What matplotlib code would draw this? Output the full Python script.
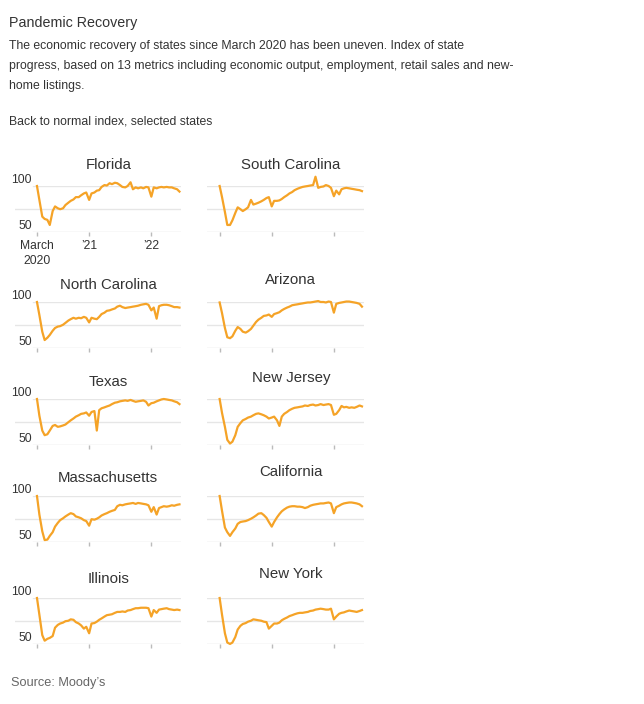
import pandas as pd
import matplotlib.pyplot as plt
import matplotlib.transforms as mtransforms

plt.rcParams['font.family'] = ['Liberation Sans', 'DejaVu Sans']

# semi-monthly readings, March 2020 to mid June 2022
dates = pd.date_range('2020-03-01', periods=56, freq='SMS')

florida = [100, 85, 67, 64.5, 63.5, 58, 73, 78,
           76, 75, 76, 79.5, 82, 84, 85.5, 88,
           88, 90, 92, 93, 85, 92, 93, 95,
           95.5, 99, 101, 100.5, 103, 102, 103.5, 103,
           101, 99, 98.5, 100, 104, 96.5, 98.5, 97.5,
           98.5, 97.5, 99, 98.5, 88.5, 98.5, 97.5, 98.5,
           99, 98.5, 99, 98.5, 98.5, 97.5, 96.5, 94]
south_carolina = [100, 88, 72, 58, 58, 63, 71, 77,
                  75, 73, 75, 77, 85, 80, 81, 82,
                  83.5, 85, 87, 88, 78, 84, 84, 84.5,
                  86, 88, 90, 92, 93.5, 95.5, 97, 98,
                  99, 99.5, 100, 100.5, 101, 110, 98, 99,
                  99.5, 101, 100, 98, 89, 95, 91, 96.5,
                  97.5, 98, 97.5, 97, 96.5, 96, 95.5, 94.5]
north_carolina = [100, 86, 68, 59, 61.5, 64.5, 69, 72,
                  73.5, 74, 75.5, 77.5, 80, 81.5, 83, 82,
                  83, 82.5, 84, 83, 78, 83, 82, 81.5,
                  84, 87, 88.5, 90.5, 91, 92, 93, 95,
                  96, 94.5, 93.5, 94, 94.5, 95, 95.5, 96,
                  97, 97.5, 98, 97, 91, 94, 82, 95.5,
                  96.5, 97, 97, 96.5, 95.5, 94.5, 94.5, 94]
arizona = [99.5, 88, 72, 62, 61, 63, 69, 73,
           71, 68, 67, 68.5, 71, 74.5, 78.5, 81,
           83, 85, 85.5, 86.5, 84, 87, 88, 89,
           91, 92.5, 94, 95, 96.5, 97, 97.5, 98,
           98.5, 99, 99.5, 99.5, 100, 100.5, 101, 100,
           100, 99.5, 100.5, 100, 88.5, 98, 99, 99.5,
           100, 100.5, 100.5, 100, 99.5, 99, 98, 95]
texas = [100, 82, 66, 61, 62, 66, 71, 72,
         70, 70.5, 71.5, 72.5, 75, 77, 79, 81,
         82.5, 84, 84.5, 85.5, 82, 86, 87, 66,
         88, 90, 91, 92, 93, 94.5, 96, 96.5,
         97.5, 98, 98.5, 98, 99, 98, 97, 97.5,
         98, 98.5, 97, 93, 95.5, 96, 97.5, 98.5,
         99.5, 100, 99.5, 99, 98.5, 97.5, 96.5, 94.5]
new_jersey = [100, 85, 70, 56, 52, 54, 61, 70,
              74, 77, 78.5, 80, 81, 82.5, 84, 84.5,
              83.5, 82.5, 81, 79, 80, 81, 77, 71,
              81, 84, 86, 88, 89.5, 90.5, 91, 91.5,
              92, 93, 92.5, 93.5, 94, 93, 93.5, 94.5,
              93.5, 94, 94.5, 93.5, 83, 84, 88, 92.5,
              91, 91.5, 90.5, 91, 90.5, 91.5, 93, 92]
massachusetts = [100, 80, 62, 52.5, 53, 57, 61, 67,
                 71, 74, 76, 78, 80, 81.5, 80.5, 78,
                 77, 76, 74, 73, 68, 75, 74.5, 75.5,
                 77, 79, 80.5, 81.5, 83, 84, 85, 89,
                 90.5, 90, 91, 91.5, 92, 92.5, 91.5, 92.5,
                 92, 91.5, 91, 90, 83, 88, 80, 87,
                 88, 89, 88.5, 89, 90, 89.5, 90.5, 91]
california = [100, 84, 66, 61, 57, 61, 65, 70,
              72, 72.5, 73, 74, 75.5, 77, 79, 81,
              81.5, 79.5, 76.5, 72, 67, 72, 77, 80.5,
              83.5, 85.5, 87.5, 88.5, 89, 89, 88.5, 88.5,
              88, 87, 88, 89.5, 90.5, 91, 91.5, 92,
              92, 92.5, 93, 92, 81.5, 88, 89.5, 91,
              92, 92.5, 93, 93, 92.5, 92, 91, 89]
illinois = [100, 82, 60, 54, 56, 57, 59, 68,
            71, 72.5, 73.5, 75, 75.5, 77, 76.5, 74,
            72.5, 70.5, 67, 69, 62, 72.5, 73, 74.5,
            76.5, 78, 80, 81.5, 82, 82.5, 84, 85,
            85, 85.5, 85, 86.5, 87, 88, 89, 89,
            89.5, 89.5, 89.5, 89, 80, 87, 84, 87.5,
            88, 88.5, 89, 88, 87.5, 87, 87.5, 87]
new_york = [100, 82, 62, 52, 50.5, 52, 58, 66,
            70, 72, 73, 74.5, 75.5, 77, 76.5, 76,
            75.5, 74.5, 74, 67, 70, 72.5, 72.5, 73.5,
            76, 77.5, 79, 80.5, 81.5, 82.5, 83.5, 84,
            84, 84.5, 85, 86, 86.5, 87.5, 88, 88.5,
            88, 87.5, 87.5, 88.5, 77, 80, 83, 84,
            84.5, 85.5, 86.5, 86, 85.5, 85, 86, 87]

states = ['Florida', 'South Carolina', 'North Carolina', 'Arizona', 'Texas',
          'New Jersey', 'Massachusetts', 'California', 'Illinois', 'New York']
series = [florida, south_carolina, north_carolina, arizona, texas,
          new_jersey, massachusetts, california, illinois, new_york]
tick_dates = pd.to_datetime(['2020-03-01', '2021-01-01', '2022-01-01'])
tick_labels = ['March\n2020', "\u201921", "\u201922"]

df = pd.DataFrame(dict(zip(states, series)), index=dates)

W, H = 644, 704
fig = plt.figure(figsize=(W / 100, H / 100), dpi=100)

def fx(x):
    return x / W

def fy(y):
    return 1 - y / H

ORANGE = '#F5A327'
GRID = '#e6e6e6'
TXT = '#333333'

# pixel layout
row_top = [186, 302, 399, 496, 598]     # y of the 100 line
span = 46.4                              # 100 -> 50
col_x = [(15, 181), (206.7, 363.5)]
title_base = [(169.3, 169.3), (288.7, 283.7), (385.7, 381.7),
              (481.7, 476.5), (582.7, 578.3)]
start = pd.Timestamp('2020-03-01')
end = pd.Timestamp('2022-06-24')
left_pad = [pd.Timedelta(days=129), pd.Timedelta(days=76)]

for i, name in enumerate(states):
    r, c = divmod(i, 2)
    x0, x1 = col_x[c]
    y100 = row_top[r]
    ax = fig.add_axes([fx(x0), fy(y100 + span), (x1 - x0) / W, span / H])
    ax.set_xlim(start - left_pad[c], end)
    ax.set_ylim(50, 100)
    for s in ax.spines.values():
        s.set_visible(False)
    ax.set_yticks([])
    gx = (33 - x0) / (x1 - x0) if c == 0 else 0
    ax.axhline(100, xmin=gx, color=GRID, lw=1, zorder=0)
    ax.axhline(75, color=GRID, lw=1, zorder=0)
    ax.axhline(50, xmin=gx, color='#dcdcdc', lw=1, zorder=0)
    ax.plot(df.index, df[name], color=ORANGE, lw=1.6, clip_on=False,
            solid_joinstyle='round', zorder=3)
    ax.set_xticks(tick_dates)
    if r == 0 and c == 0:
        ax.set_xticklabels(tick_labels, fontsize=8.7, color=TXT, linespacing=1.35)
    else:
        ax.set_xticklabels([])
    ax.tick_params(axis='x', length=3, width=1, color='#bbbbbb', pad=2.5)
    if c == 0:
        for v in (100, 50):
            ax.annotate(str(v), xy=(33, v), xycoords=(mtransforms.IdentityTransform(), 'data'),
                        xytext=(-1, 3), textcoords='offset pixels',
                        ha='right', va='baseline', fontsize=8.7, color=TXT)
    mid = start + (dates[-1] - start) / 2
    tr = mtransforms.blended_transform_factory(ax.transData, fig.transFigure)
    ax.text(mid, fy(title_base[r][c]), name, transform=tr,
            ha='center', va='baseline', fontsize=10.8, color=TXT)

fig.text(fx(9), fy(26.7), 'Pandemic Recovery', fontsize=10.3, color=TXT, va='baseline')
sub = ['The economic recovery of states since March 2020 has been uneven. Index of state',
       'progress, based on 13 metrics including economic output, employment, retail sales and new-',
       'home listings.']
for k, line in enumerate(sub):
    fig.text(fx(9), fy(49.3 + 20 * k), line, fontsize=8.8, color=TXT, va='baseline')
fig.text(fx(9), fy(124), 'Back to normal index, selected states', fontsize=8.8, color=TXT, va='baseline')
fig.text(fx(11), fy(686), 'Source: Moody\u2019s', fontsize=9.2, color='#666666', va='baseline')

fig.savefig('out.png', dpi=100, facecolor='white')
